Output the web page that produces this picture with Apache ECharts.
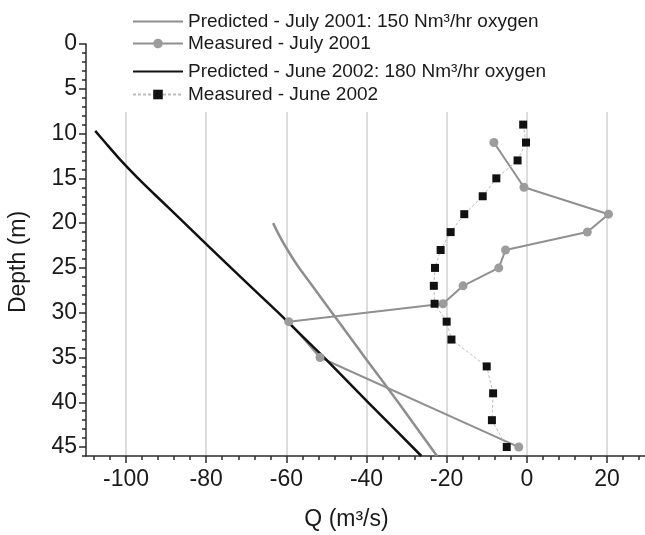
<!DOCTYPE html>
<html><head><meta charset="utf-8">
<script src="https://cdn.jsdelivr.net/npm/echarts@6/dist/echarts.min.js"></script>
<style>html,body{margin:0;padding:0;background:#fff}#c{width:645px;height:535px}</style>
</head><body><div id="c"></div>
<script>
const seriesNames = [
  'Predicted - July 2001: 150 Nm³/hr oxygen',
  'Measured - July 2001',
  'Predicted - June 2002: 180 Nm³/hr oxygen',
  'Measured - June 2002'
];
// Predicted July 2001
const predJulyDepth = [20, 21, 22, 23, 24, 25, 30, 35, 40, 46];
const predJulyQ = [-63.3, -62.2, -61.0, -59.7, -58.3, -56.8, -48.6, -40.4, -32.1, -22.4];
// Measured July 2001
const measJulyDepth = [11, 16, 19, 21, 23, 25, 27, 29, 31, 35, 45];
const measJulyQ = [-8.2, -0.7, 20.4, 15.1, -5.3, -7.0, -15.9, -20.9, -59.4, -51.6, -2.0];
// Predicted June 2002
const predJuneDepth = [9.7, 11, 13, 15, 17, 20, 25, 30, 35, 40, 46];
const predJuneQ = [-107.7, -105.2, -101.3, -97.0, -92.4, -85.4, -73.8, -62.0, -50.6, -39.6, -26.3];
// Measured June 2002
const measJuneDepth = [9, 11, 13, 15, 17, 19, 21, 23, 25, 27, 29, 31, 33, 36, 39, 42, 45];
const measJuneQ = [-0.9, -0.2, -2.3, -7.6, -11.0, -15.6, -19.0, -21.5, -22.9, -23.2, -23.0, -20.0, -18.8, -10.0, -8.4, -8.7, -5.0];

// Axis ticks
const xMajorTicks = [-100, -80, -60, -40, -20, 0, 20];
const xMinorTicks = [-108, -104, -100, -96, -92, -88, -84, -80, -76, -72, -68, -64, -60, -56, -52, -48, -44, -40, -36, -32, -28, -24, -20, -16, -12, -8, -4, 0, 4, 8, 12, 16, 20, 24, 28];
const yMajorTicks = [0, 5, 10, 15, 20, 25, 30, 35, 40, 45];
const yMinorTicks = [0,1,2,3,4,5,6,7,8,9,10,11,12,13,14,15,16,17,18,19,20,21,22,23,24,25,26,27,28,29,30,31,32,33,34,35,36,37,38,39,40,41,42,43,44,45,46];

function zip(qs, ds) { return qs.map((q, i) => [q, ds[i]]); }

const FONT = 'Liberation Sans, Arial, sans-serif';
const AX = '#2a2a2a';

const chart = echarts.init(document.getElementById('c'), null, {renderer: 'canvas'});

const legendTops = [12, 34, 62, 85];
const legendHideSymbol = [true, false, true, false];
const option = {
  animation: false,
  backgroundColor: '#fff',
  grid: {left: 86, top: 44, width: 561, height: 412, containLabel: false, outerBoundsMode: 'none'},
  graphic: [{type: 'rect', z: 1, shape: {x: 95, y: 0, width: 560, height: 112}, style: {fill: '#fff'}}],
  legend: seriesNames.map((n, i) => {
    const l = {
      data: [n], left: 132, top: legendTops[i], orient: 'vertical', padding: 0,
      itemWidth: 50, itemHeight: 12, itemGap: 0, selectedMode: false,
      textStyle: {fontSize: 19, color: '#1a1a1a', fontFamily: FONT}
    };
    if (legendHideSymbol[i]) l.itemStyle = {opacity: 0};
    return l;
  }),
  xAxis: [
    {type: 'value', min: -110, max: 30, position: 'bottom',
      axisLine: {show: true, onZero: false, lineStyle: {color: AX, width: 1.5}},
      axisTick: {show: true, length: 4, customValues: xMinorTicks, lineStyle: {color: AX, width: 1.5}},
      axisLabel: {show: false}, splitLine: {show: false}},
    {type: 'value', min: -110, max: 30, position: 'bottom',
      axisLine: {show: false, onZero: false},
      axisTick: {show: true, length: 7, customValues: xMajorTicks, lineStyle: {color: AX, width: 1.5}},
      axisLabel: {customValues: xMajorTicks, fontSize: 23, margin: 12, color: '#1a1a1a', fontFamily: FONT},
      splitLine: {show: true, lineStyle: {color: '#d2d2d2', width: 1.5}},
      name: 'Q (m³/s)', nameLocation: 'middle', nameGap: 52,
      nameTextStyle: {fontSize: 23, color: '#1a1a1a', fontFamily: FONT, padding: [0, 40, 0, 0]}}
  ],
  yAxis: [
    {type: 'value', inverse: true, min: 0, max: 46, position: 'left',
      axisLine: {show: true, onZero: false, lineStyle: {color: AX, width: 1.5}},
      axisTick: {show: true, length: 4, customValues: yMinorTicks, lineStyle: {color: AX, width: 1.5}},
      axisLabel: {show: false}, splitLine: {show: false}},
    {type: 'value', inverse: true, min: 0, max: 46, position: 'left',
      axisLine: {show: false, onZero: false},
      axisTick: {show: true, length: 7, customValues: yMajorTicks, lineStyle: {color: AX, width: 1.5}},
      axisLabel: {customValues: yMajorTicks, fontSize: 23, margin: 9, color: '#1a1a1a', fontFamily: FONT},
      splitLine: {show: false},
      name: 'Depth (m)', nameLocation: 'middle', nameGap: 56, nameRotate: 90,
      nameTextStyle: {fontSize: 23, color: '#1a1a1a', fontFamily: FONT, padding: [0, 24, 0, 0]}}
  ],
  series: [
    {name: seriesNames[0], type: 'line', xAxisIndex: 0, yAxisIndex: 0, data: zip(predJulyQ, predJulyDepth),
      symbol: 'none', smooth: 0.2, lineStyle: {color: '#8e8e8e', width: 2.5}, itemStyle: {color: '#8e8e8e'}},
    {name: seriesNames[1], type: 'line', xAxisIndex: 0, yAxisIndex: 0, data: zip(measJulyQ, measJulyDepth),
      symbol: 'circle', symbolSize: 9, showAllSymbol: true,
      lineStyle: {color: '#909090', width: 2}, itemStyle: {color: '#9c9c9c'}},
    {name: seriesNames[2], type: 'line', xAxisIndex: 0, yAxisIndex: 0, data: zip(predJuneQ, predJuneDepth),
      symbol: 'none', smooth: 0.2, lineStyle: {color: '#111', width: 2.5}, itemStyle: {color: '#111'}},
    {name: seriesNames[3], type: 'line', xAxisIndex: 0, yAxisIndex: 0, data: zip(measJuneQ, measJuneDepth),
      symbol: 'rect', symbolSize: 8, showAllSymbol: true,
      lineStyle: {color: '#bdbdbd', width: 1, type: [3, 2]}, itemStyle: {color: '#111'}}
  ]
};
chart.setOption(option);
</script>
</body></html>
